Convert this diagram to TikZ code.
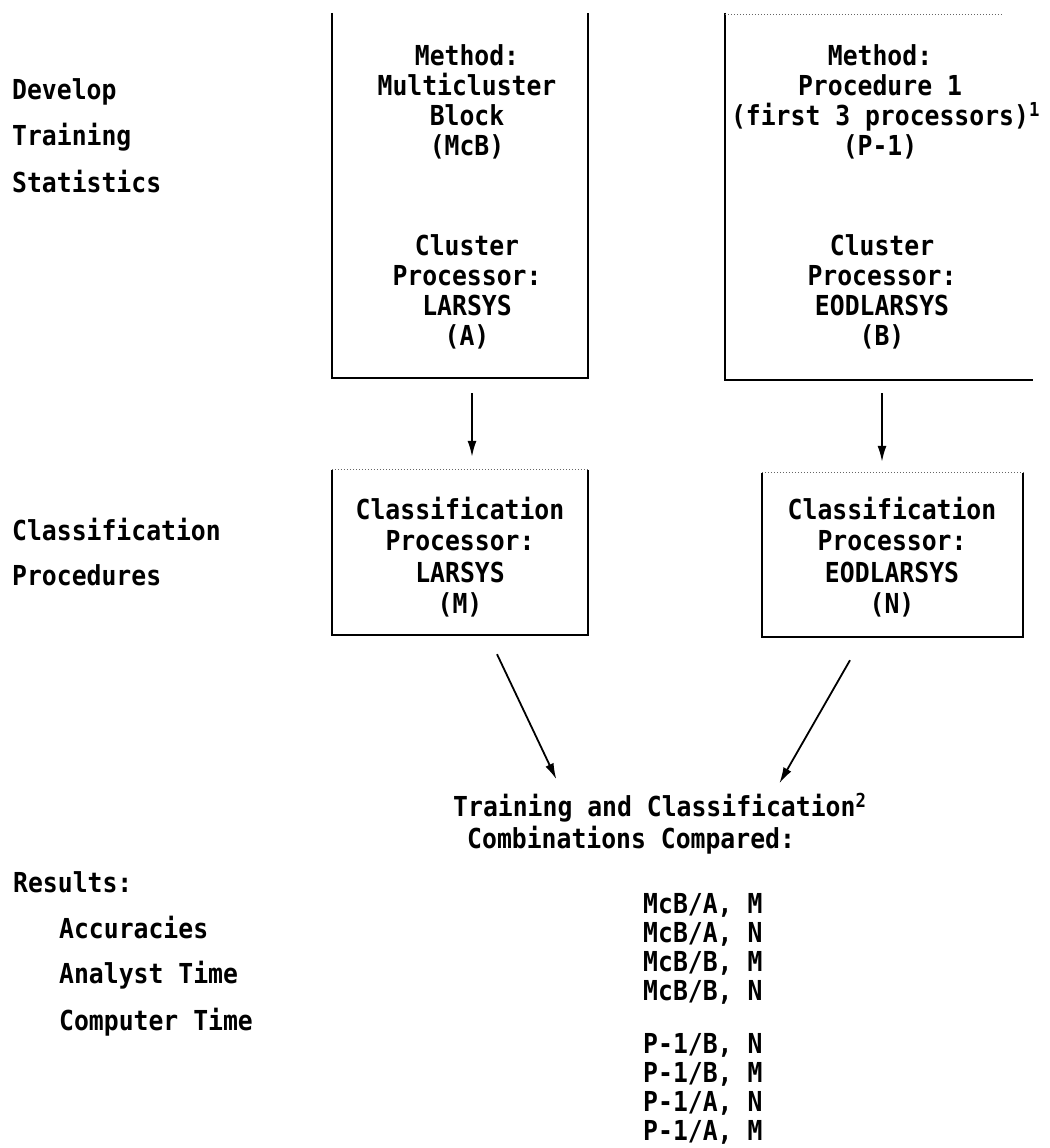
\documentclass[tikz,border=0pt]{standalone}
\usepackage{fontspec}
\setmainfont{DejaVu Sans Mono}[FakeStretch=0.9]
\usetikzlibrary{arrows.meta, positioning}
\tikzset{
  txt/.style = {font=\bfseries\fontsize{27.5}{30}\selectfont, inner sep=0pt, align=center},
  openbox/.style = {inner sep=0pt, minimum width=#1},
  edge/.style = {line width=1.8pt},
  faint/.style = {line width=1pt, dotted, black!60},
  flow/.style = {line width=1.8pt, -{Latex[length=16pt,width=9pt]}}
}
\begin{document}
\begin{tikzpicture}[x=1pt, y=-1pt]
\useasboundingbox (0,0) rectangle (1049,1148);
% training boxes
\node[openbox=256pt, minimum height=365pt] (mcbbox) at (460,195.5) {};
\node[openbox=308pt, minimum height=367pt] (p1box) at (879,196.5) {};
\draw[edge] (mcbbox.north west) -- (mcbbox.south west) -- (mcbbox.south east) -- (mcbbox.north east);
\draw[edge] (p1box.north west) -- (p1box.south west) -- (p1box.south east);
\draw[faint] ([yshift=-2pt]p1box.north west) -- ([xshift=-30pt,yshift=-2pt]p1box.north east);
\node[txt] (mcbmeth) at (467,102) {Method:\\Multicluster\\Block\\(McB)};
\node[txt] (mcbclus) at (467,292) {Cluster\\Processor:\\LARSYS\\(A)};
\node[txt] (p1meth) at (880,102) {Method:\\Procedure 1\\(first 3 processors)\rlap{\textsuperscript{1}}\\(P-1)};
\node[txt] (p1clus) at (882,292) {Cluster\\Processor:\\EODLARSYS\\(B)};
% classification boxes
\node[openbox=256pt, minimum height=165pt] (lrsbox) at (460,552.5) {};
\node[openbox=261pt, minimum height=164pt] (eodbox) at (892.5,555) {};
\foreach \b in {lrsbox,eodbox}{
  \draw[edge] (\b.north west) -- (\b.south west) -- (\b.south east) -- (\b.north east);
  \draw[faint] (\b.north west) -- (\b.north east);
}
\node[txt, font=\bfseries\fontsize{27.5}{31.5}\selectfont] (lrscls) at (460,557) {Classification\\Processor:\\LARSYS\\(M)};
\node[txt, font=\bfseries\fontsize{27.5}{31.5}\selectfont] (eodcls) at (892,557) {Classification\\Processor:\\EODLARSYS\\(N)};
% left column
\node[txt, anchor=west] (develop) at (12,92) {Develop};
\node[txt, anchor=west] (training) at (12,137) {Training};
\node[txt, anchor=west] (stats) at (12,182) {Statistics};
\node[txt, anchor=west] (classif) at (12,530) {Classification};
\node[txt, anchor=west] (procs) at (12,575) {Procedures};
\node[txt, anchor=west] (results) at (13,882) {Results:};
\node[txt, anchor=west] (accur) at (59,928) {Accuracies};
\node[txt, anchor=west] (analyst) at (59,975) {Analyst Time};
\node[txt, anchor=west] (computer) at (59,1022) {Computer Time};
% combinations
\node[txt, anchor=west] (train) at (453,808) {Training and Classification\rlap{\textsuperscript{2}}};
\node[txt, anchor=west] (combo) at (467,840) {Combinations Compared:};
\foreach \m/\p/\c/\y in {McB/A/M/905, McB/A/N/934, McB/B/M/963, McB/B/N/992,
                         P-1/B/N/1045, P-1/B/M/1074, P-1/A/N/1103, P-1/A/M/1132}
  \node[txt, anchor=west] (cmb\y) at (643,\y) {\m/\p, \c};
% arrows
\draw[flow] ([xshift=12pt,yshift=-15pt]mcbbox.south) -- ([xshift=12pt,yshift=13pt]lrsbox.north);
\draw[flow] ([xshift=3pt,yshift=-13pt]p1box.south) -- ([xshift=-10.5pt,yshift=11pt]eodbox.north);
\draw[flow] ([xshift=37pt,yshift=-19pt]lrsbox.south) -- ([xshift=-98pt,yshift=14pt]train.north);
\draw[flow] ([xshift=-42.5pt,yshift=-23pt]eodbox.south) -- ([xshift=125pt,yshift=10pt]train.north);
\end{tikzpicture}
\end{document}
